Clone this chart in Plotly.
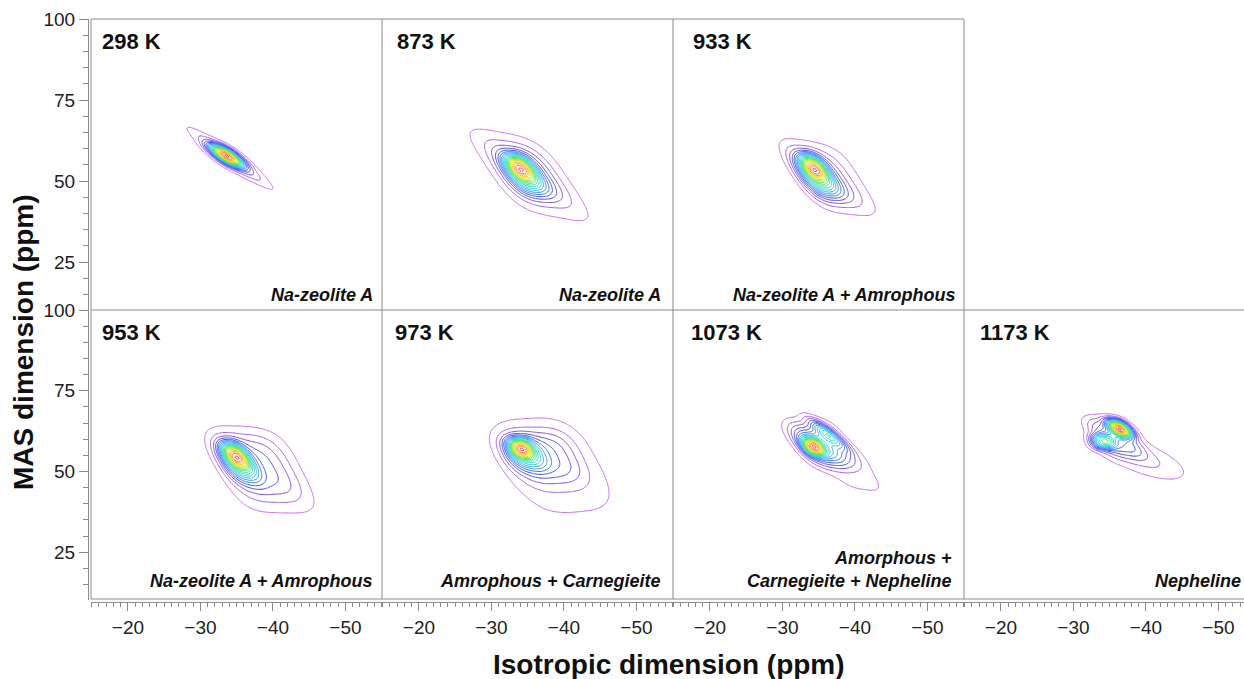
import numpy as np
import plotly.graph_objects as go

# ---------------------------------------------------------------------------
# Spectra: each 2D peak is built from a few lineshape components
# (iso centre, MAS centre, iso width, MAS width, iso shear k, MAS shear m,
#  edge sharpness p, height)
# ---------------------------------------------------------------------------
temperatures = ["298 K", "873 K", "933 K", "953 K", "973 K", "1073 K", "1173 K"]
phases = [
    "Na-zeolite A",
    "Na-zeolite A",
    "Na-zeolite A + Amrophous",
    "Na-zeolite A + Amrophous",
    "Amrophous + Carnegieite",
    "Amorphous +<br>Carnegieite + Nepheline",
    "Nepheline",
]

comp_298 = [(-33.6, 57.8, 1.1, 2.3, 0.50, 0.00, 2.4, 0.90),
            (-34.0, 57.0, 1.3, 4.0, 0.55, 0.00, 2.0, 0.20),
            (-34.1, 57.0, 0.9, 6.8, 0.60, 0.00, 2.0, 0.10)]
comp_873 = [(-33.9, 54.3, 1.2, 2.8, 0.25, 0.00, 2.4, 0.60),
            (-34.6, 51.5, 1.7, 4.2, 0.30, 0.00, 2.4, 0.45),
            (-35.0, 52.5, 2.6, 6.0, 0.30, 0.30, 3.0, 0.18),
            (-35.2, 51.8, 4.4, 10.0, 0.30, 0.45, 4.0, 0.11)]
comp_933 = [(-34.3, 54.3, 1.1, 2.8, 0.25, 0.00, 2.4, 0.60),
            (-34.9, 51.0, 1.6, 4.2, 0.30, 0.00, 2.4, 0.45),
            (-35.5, 51.5, 2.4, 5.8, 0.30, 0.30, 3.0, 0.16),
            (-36.5, 51.0, 3.7, 9.0, 0.27, 0.30, 4.0, 0.10)]
comp_953 = [(-34.8, 55.0, 1.1, 2.8, 0.25, 0.00, 2.4, 0.60),
            (-35.3, 52.5, 1.6, 4.2, 0.25, 0.00, 2.4, 0.45),
            (-37.8, 51.5, 3.3, 7.5, 0.25, 0.05, 3.0, 0.16),
            (-38.5, 50.1, 4.8, 11.3, 0.22, 0.05, 4.0, 0.10)]
comp_973 = [(-34.0, 57.2, 1.1, 2.1, 0.15, 0.00, 2.4, 0.60),
            (-34.6, 55.5, 1.9, 3.6, 0.20, 0.00, 2.4, 0.40),
            (-37.2, 54.5, 3.6, 6.5, 0.20, -0.10, 3.0, 0.19),
            (-38.5, 51.5, 5.4, 12.5, 0.25, -0.20, 3.0, 0.11)]
comp_1073 = [(-34.2, 57.6, 1.0, 1.9, 0.25, 0.00, 2.4, 0.60),
             (-36.3, 61.5, 0.8, 3.0, 0.50, 0.00, 2.0, 0.35),
             (-35.0, 58.0, 2.0, 4.0, 0.35, 0.00, 2.4, 0.30),
             (-35.5, 58.5, 3.0, 6.5, 0.30, 0.00, 4.0, 0.11),
             (-39.5, 50.5, 2.8, 6.0, 0.30, 0.30, 3.0, 0.06)]
comp_1173 = [(-36.4, 63.3, 1.0, 1.9, 0.35, 0.00, 2.4, 0.70),
             (-34.0, 59.3, 1.2, 1.7, 0.10, 0.00, 2.4, 0.35),
             (-35.8, 60.5, 2.3, 4.5, 0.30, 0.10, 3.0, 0.20),
             (-39.5, 54.0, 3.2, 3.8, 0.40, 0.35, 2.0, 0.09)]
components = [comp_298, comp_873, comp_933, comp_953, comp_973, comp_1073, comp_1173]

# grid rows/columns of each spectrum (row 0 = top)
panel_row = [0, 0, 0, 1, 1, 1, 1]
panel_col = [0, 1, 2, 0, 1, 2, 3]

# axis ticks
x_major = [-20, -30, -40, -50]
y_major = [25, 50, 75, 100]

# ---------------------------------------------------------------------------
W, H = 1244, 679
FONT = "Liberation Sans, Arial, Helvetica, sans-serif"
GRID = "#8a8a8a"

iso = np.arange(-16.0, -55.0, -0.15)
mas = np.arange(15.0, 90.0, 0.2)
ISO, MAS = np.meshgrid(iso, mas)


def surface(comps):
    z = np.zeros_like(ISO)
    for x0, y0, sx, sy, k, m, p, a in comps:
        di = ISO - x0
        dm = MAS - y0
        u = np.abs((di - k * dm) / sx)
        v = np.abs((dm - m * di) / sy)
        z += a * np.exp(-0.5 * (u ** p + v ** p))
    return z / z.max()


rainbow = [
    [0.00, "#c468f4"],
    [0.07, "#9850f0"],
    [0.13, "#5a40e8"],
    [0.20, "#3048e8"],
    [0.28, "#3078f0"],
    [0.36, "#30b0f0"],
    [0.44, "#20d8e0"],
    [0.52, "#30e0a8"],
    [0.60, "#40e050"],
    [0.70, "#a8e820"],
    [0.80, "#f0e020"],
    [0.90, "#ffa020"],
    [1.00, "#ff3020"],
]

col_px = [(91, 382), (382, 673), (673, 964), (964, 1244)]
row_px = [(19, 310), (310, 600)]
px_per_ppm = 7.25
x_left = -14.9

fig = go.Figure()


def px2x(p):
    return p / W


def px2y(p):
    return 1 - p / H


for i, comps in enumerate(components):
    k = i + 1
    r, c = panel_row[i], panel_col[i]
    z = surface(comps)
    fig.add_trace(go.Contour(
        x=iso, y=mas, z=z,
        xaxis=f"x{k}", yaxis=f"y{k}",
        colorscale=rainbow, zmin=0, zmax=1,
        contours=dict(start=0.04, end=0.99, size=0.05, coloring="lines"),
        line=dict(width=1),
        showscale=False, hoverinfo="skip",
    ))
    x0p, x1p = col_px[c]
    y0p, y1p = row_px[r]
    xr = [x_left, x_left - (x1p - x0p) / px_per_ppm]
    xax = dict(domain=[px2x(x0p), px2x(x1p)], range=xr, showgrid=False,
               zeroline=False, anchor=f"y{k}", automargin=False)
    if r == 1:
        xax.update(anchor="free", position=px2y(602), showline=True,
                   linecolor=GRID, linewidth=1, ticks="outside", ticklen=8,
                   tickcolor=GRID, tickvals=x_major,
                   tickfont=dict(family=FONT, size=19, color="#222"),
                   minor=dict(dtick=1, ticks="outside", ticklen=4,
                              tickcolor=GRID))
    else:
        xax.update(visible=False)
    yax = dict(domain=[px2y(y1p), px2y(y0p)], range=[10.2, 100],
               showgrid=False, zeroline=False, anchor=f"x{k}",
               automargin=False)
    if c == 0:
        yax.update(anchor="free", position=px2x(88), showline=True,
                   linecolor=GRID, linewidth=1, ticks="outside", ticklen=9,
                   tickcolor=GRID, tickvals=y_major,
                   tickfont=dict(family=FONT, size=19, color="#222"),
                   minor=dict(dtick=5, ticks="outside", ticklen=5,
                              tickcolor=GRID))
    else:
        yax.update(visible=False)
    fig.layout[f"xaxis{k}"] = xax
    fig.layout[f"yaxis{k}"] = yax

# panel frames
shapes = [dict(type="line", xref="paper", yref="paper",
               x0=px2x(91), x1=px2x(964), y0=px2y(19), y1=px2y(19))]
for yp in (310, 599):
    shapes.append(dict(type="line", xref="paper", yref="paper",
                       x0=px2x(91), x1=1, y0=px2y(yp), y1=px2y(yp)))
for xp in (91, 382, 673, 964):
    shapes.append(dict(type="line", xref="paper", yref="paper",
                       x0=px2x(xp), x1=px2x(xp), y0=px2y(19), y1=px2y(599)))
for s in shapes:
    s["line"] = dict(color=GRID, width=1)

# labels
title_off = [9, 13, 18, 9, 11, 16, 14]
phase_off = [7, 10, 6, 7, 10, 10, 12]
phase_lift = [3, 3, 3, 7, 7, 7, 7]
annotations = []
for i in range(len(temperatures)):
    r, c = panel_row[i], panel_col[i]
    x0p, x1p = col_px[c]
    y0p, y1p = row_px[r]
    right_edge = x0p + 291
    annotations.append(dict(
        x=px2x(x0p + title_off[i]), y=px2y(y0p + 22), xref="paper", yref="paper",
        text=f"<b>{temperatures[i]}</b>", showarrow=False,
        xanchor="left", yanchor="middle",
        font=dict(family=FONT, size=22, color="#111")))
    annotations.append(dict(
        x=px2x(right_edge - phase_off[i]), y=px2y(y1p - phase_lift[i]),
        xref="paper", yref="paper",
        text=f"<b><i>{phases[i]}</i></b>", showarrow=False,
        xanchor="right", yanchor="bottom", align="right",
        font=dict(family=FONT, size=18, color="#111")))

annotations.append(dict(
    x=px2x(669), y=px2y(664), xref="paper", yref="paper",
    text="<b>Isotropic dimension (ppm)</b>", showarrow=False,
    xanchor="center", yanchor="middle",
    font=dict(family=FONT, size=28, color="#111")))
annotations.append(dict(
    x=px2x(23), y=px2y(342), xref="paper", yref="paper",
    text="<b>MAS dimension (ppm)</b>", showarrow=False, textangle=-90,
    xanchor="center", yanchor="middle",
    font=dict(family=FONT, size=28, color="#111")))

fig.update_layout(
    width=W, height=H,
    margin=dict(l=0, r=0, t=0, b=0, autoexpand=False),
    paper_bgcolor="white", plot_bgcolor="rgba(0,0,0,0)",
    showlegend=False,
    shapes=shapes, annotations=annotations,
)

fig.write_html("out.html")
